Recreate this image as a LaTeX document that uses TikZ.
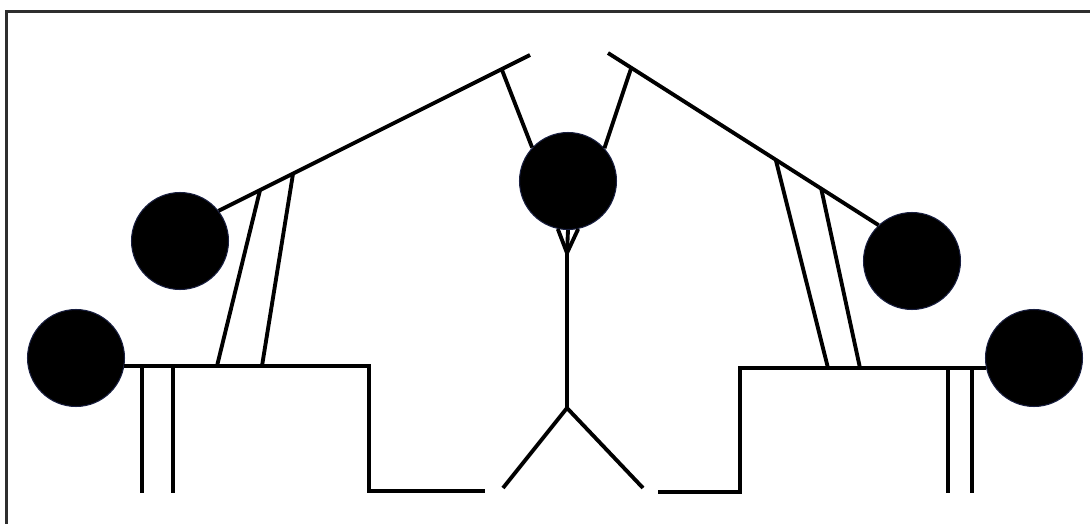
\documentclass[tikz,border=0pt]{standalone}
\usetikzlibrary{calc}
\definecolor{ballrim}{rgb}{0.10,0.12,0.25}
\definecolor{framegray}{rgb}{0.18,0.18,0.18}
\tikzset{
  ball/.style={
    circle,
    fill=black,
    draw=ballrim,
    line width=0.6pt,
    minimum size=1.94cm,
    inner sep=0pt
  },
  bar/.style={
    line width=2.2pt,
    black
  },
  rim/.style={
    line width=1.2pt,
    framegray
  }
}
\begin{document}
\begin{tikzpicture}[x=0.02cm,y=-0.02cm]
\useasboundingbox (0,0) rectangle (1090,524);
\draw[rim] (6.5,524) -- (6.5,11.5) -- (1090,11.5);
% balls
\node[ball] (ll) at (76,358) {};
\node[ball] (ul) at (180,241) {};
\node[ball] (c) at (568,181) {};
\node[ball] (ur) at (912,261) {};
\node[ball] (lr) at (1034,358) {};
% tips and joints
\coordinate (ltip) at (530,55);
\coordinate (rtip) at (608,53);
\coordinate (lt) at ($(ul.38)!0.909!(ltip)$);
\coordinate (rt) at ($(rtip)!0.086!(ur.133)$);
\coordinate (lfoot) at (369,491);
\coordinate (lgap) at (485,491);
\coordinate (rfoot) at (740,492);
\coordinate (rgap) at (658,492);
\coordinate (neck) at (567,253);
\coordinate (hip) at (567,408);
\coordinate (lleg) at (503,488);
\coordinate (rleg) at (643,488);
% top lines
\draw[bar] (ul.38) -- (ltip);
\draw[bar] (rtip) -- (ur.133);
\draw[bar] (lt) -- (c.137);
\draw[bar] (rt) -- (c.42);
% struts
\draw[bar] ($(ul.38)!0.133!(ltip)$) -- (217,366);
\draw[bar] ($(ul.38)!0.239!(ltip)$) -- (262,366);
\draw[bar] ($(rtip)!0.62!(ur.133)$) -- (828,368);
\draw[bar] ($(rtip)!0.788!(ur.133)$) -- (860,368);
% floor
\draw[bar] (ll.-9) -| (lfoot) -- (lgap);
\draw[bar] (lr.192) -| (rfoot) -- (rgap);
\foreach \x in {142,173,948,972}
  \draw[bar] (\x,366) -- (\x,493);
% middle
\foreach \a in {258,270,282}
  \draw[bar] (c.\a) -- (neck);
\draw[bar] (neck) -- (hip);
\draw[bar] (lleg) -- (hip) -- (rleg);
\end{tikzpicture}
\end{document}
